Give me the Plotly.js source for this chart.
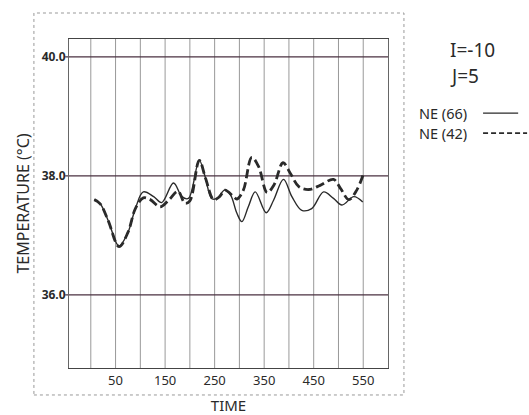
<!DOCTYPE html>
<html><head><meta charset="utf-8">
<script src="https://cdn.plot.ly/plotly-3.0.1.min.js"></script>
<style>html,body{margin:0;padding:0;background:#fff;}#chart{width:529px;height:415px;}</style>
</head><body><div id="chart"></div>
<script>
// NE (66) solid
const timeNE66 = [7,19,35,57,75,90,106,127,143,167,184,197,219,231,244,255,270,282,295,305,318,332,354,369,389,406,426,446,470,490,507,531,549];
const tempNE66 = [37.60,37.53,37.25,36.82,37.05,37.45,37.73,37.65,37.55,37.88,37.65,37.62,38.26,37.98,37.62,37.62,37.76,37.68,37.37,37.23,37.48,37.73,37.38,37.59,37.94,37.65,37.42,37.45,37.73,37.62,37.51,37.65,37.56];
// NE (42) dashed
const timeNE42 = [7,19,35,57,75,90,106,120,140,157,176,190,200,219,232,248,260,271,288,295,308,325,339,356,370,388,403,420,440,463,490,504,521,537,551];
const tempNE42 = [37.60,37.53,37.25,36.81,37.05,37.45,37.63,37.60,37.48,37.59,37.74,37.54,37.58,38.26,37.95,37.60,37.65,37.76,37.65,37.61,37.76,38.31,38.15,37.72,37.85,38.22,38.04,37.82,37.77,37.84,37.94,37.79,37.60,37.76,38.05];
const xTickVals = [50,150,250,350,450,550];
const yTickVals = [36,38,40];
const yTickText = ["36.0","38.0","40.0"];
const vGrid = [0,50,100,150,200,250,300,350,400,450,500,550];

const FONT = "Noto Sans, sans-serif";
const ink = "#2a2a2a";

const traces = [
  {x: timeNE66, y: tempNE66, mode: "lines", line: {color: ink, width: 1.4, shape: "spline", smoothing: 1.0}, showlegend: false},
  {x: timeNE42, y: tempNE42, mode: "lines", line: {color: ink, width: 2.8, dash: "9px,4px", shape: "spline", smoothing: 1.0}, showlegend: false}
];

const shapes = [];
vGrid.forEach(v => shapes.push({type: "line", xref: "x", yref: "paper", x0: v, x1: v, y0: 0, y1: 1, line: {color: "#999", width: 1}, layer: "below"}));
yTickVals.forEach(v => shapes.push({type: "line", xref: "paper", yref: "y", x0: -0.012, x1: 1, y0: v, y1: v, line: {color: "#4a3040", width: 1.2}, layer: "below"}));
// outer frame
shapes.push({type: "rect", xref: "paper", yref: "paper", x0: -0.11, x1: 1.05, y0: -0.082, y1: 1.079, line: {color: "#999", width: 1, dash: "dot"}});
// legend line samples
shapes.push({type: "line", xref: "paper", yref: "paper", x0: 1.298, x1: 1.408, y0: 0.775, y1: 0.775, line: {color: ink, width: 1.2}});
shapes.push({type: "line", xref: "paper", yref: "paper", x0: 1.298, x1: 1.436, y0: 0.714, y1: 0.714, line: {color: ink, width: 1.6, dash: "5px,3px"}});

const annotations = [
  {xref: "paper", yref: "paper", x: 1.188, y: 0.967, text: "I=-10", showarrow: false, xanchor: "left", yanchor: "middle", font: {family: FONT, size: 19, color: ink}},
  {xref: "paper", yref: "paper", x: 1.188, y: 0.889, text: "J=5", showarrow: false, xanchor: "left", yanchor: "middle", font: {family: FONT, size: 19, color: ink}},
  {xref: "paper", yref: "paper", x: 1.091, y: 0.775, text: "NE (66)", showarrow: false, xanchor: "left", yanchor: "middle", font: {family: FONT, size: 14.5, color: ink}},
  {xref: "paper", yref: "paper", x: 1.091, y: 0.714, text: "NE (42)", showarrow: false, xanchor: "left", yanchor: "middle", font: {family: FONT, size: 14.5, color: ink}}
];

const layout = {
  width: 529, height: 415,
  margin: {l: 69, r: 141, t: 39, b: 47},
  paper_bgcolor: "#fff", plot_bgcolor: "#fff",
  showlegend: false,
  font: {family: FONT, color: ink},
  xaxis: {
    range: [-44, 600], tickvals: xTickVals, ticks: "", showgrid: false, zeroline: false,
    showline: true, linecolor: "#444", linewidth: 1, mirror: true,
    tickfont: {family: FONT, size: 13, color: ink},
    title: {text: "TIME", font: {family: FONT, size: 15, color: ink}, standoff: 16}
  },
  yaxis: {
    range: [34.77, 40.3], tickvals: yTickVals, ticktext: yTickText, ticks: "", showgrid: false, zeroline: false,
    showline: true, linecolor: "#666", linewidth: 1, mirror: true,
    tickfont: {family: FONT, size: 12, color: ink, weight: "bold"},
    title: {text: "TEMPERATURE (°C)", font: {family: FONT, size: 16, color: ink}, standoff: 8}
  },
  shapes: shapes,
  annotations: annotations
};

Plotly.newPlot("chart", traces, layout, {displayModeBar: false, staticPlot: true});
</script>
</body></html>
